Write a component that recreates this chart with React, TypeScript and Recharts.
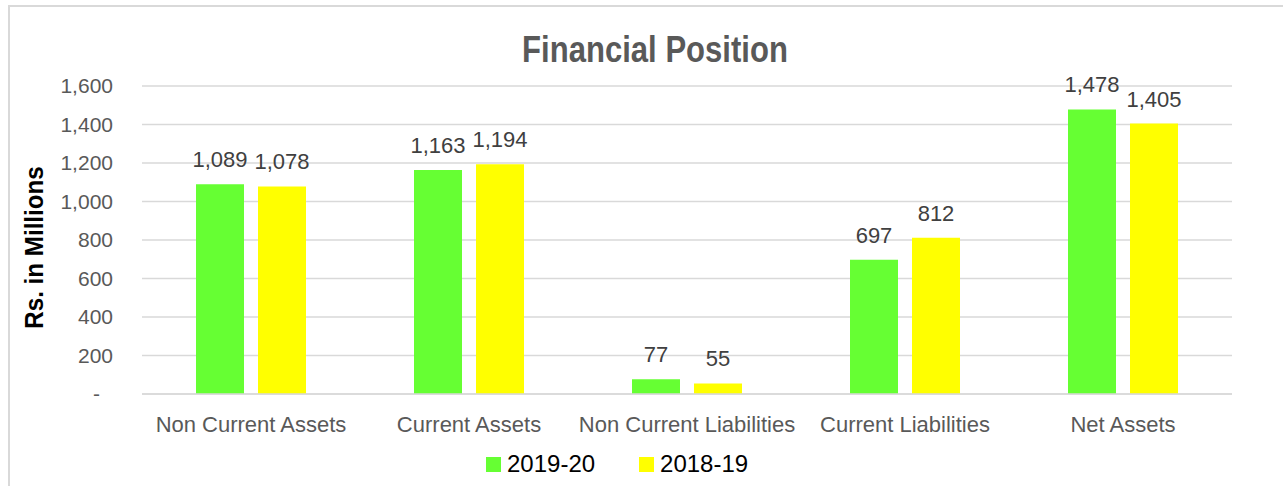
import React from 'react';
import { BarChart, Bar, XAxis, YAxis, CartesianGrid, Legend, LabelList, Label } from 'recharts';

const categories = ['Non Current Assets', 'Current Assets', 'Non Current Liabilities', 'Current Liabilities', 'Net Assets'];
const values2019_20 = [1089, 1163, 77, 697, 1478];
const values2018_19 = [1078, 1194, 55, 812, 1405];
const seriesNames = ['2019-20', '2018-19'];
const seriesColors = ['#66FF33', '#FFFF00'];
const yTicks = [0, 200, 400, 600, 800, 1000, 1200, 1400, 1600];
const titleText = 'Financial Position';
const yAxisTitle = 'Rs. in Millions';

const data = categories.map((c, i) => ({ category: c, a: values2019_20[i], b: values2018_19[i] }));

const FONT = '"Liberation Sans", Arial, sans-serif';
const fmt = (v: number) => v.toLocaleString('en-US');

const YTick = (props: any) => {
  const { x, y, payload } = props;
  const zero = payload.value === 0;
  return (
    <text x={zero ? x - 13 : x} y={y} dy="0.355em" textAnchor="end" fill="#595959" fontSize={21} fontFamily={FONT}>
      {zero ? '-' : fmt(payload.value)}
    </text>
  );
};

const XTick = (props: any) => {
  const { x, y, payload } = props;
  return (
    <text x={x} y={y} dy={0} textAnchor="middle" fill="#595959" fontSize={22} fontFamily={FONT}>
      <tspan x={x} dy="0.71em">{payload.value}</tspan>
    </text>
  );
};

const renderLegend = (props: any) => {
  const { payload } = props;
  const items = [...(payload || [])].sort((p: any, q: any) => String(p.dataKey).localeCompare(String(q.dataKey)));
  return (
    <div style={{ display: 'flex', alignItems: 'center', height: 28 }}>
      {items.map((e: any, i: number) => (
        <div key={i} style={{ display: 'flex', alignItems: 'center', marginRight: 44 }}>
          <span style={{ width: 15, height: 15, background: e.color, display: 'inline-block', marginRight: 6 }} />
          <span style={{ fontSize: 24, color: '#000', fontFamily: FONT, lineHeight: '28px' }}>{e.value}</span>
        </div>
      ))}
    </div>
  );
};

export default function App() {
  return (
    <div style={{ position: 'absolute', left: 0, top: 0, width: 1283, height: 486, overflow: 'hidden', background: '#fff' }}>
      <div style={{ position: 'absolute', left: 8, top: 5, width: 1300, height: 520, border: '2px solid #d9d9d9', boxSizing: 'border-box' }} />
      <svg width={1283} height={100} style={{ position: 'absolute', left: 0, top: 0 }}>
        <text transform="translate(655,62) scale(0.84,1)" textAnchor="middle" fill="#595959" fontSize={37} fontWeight="bold" fontFamily={FONT}>
          {titleText}
        </text>
      </svg>
      <div style={{ position: 'absolute', left: 0, top: 0 }}>
        <BarChart
          width={1283}
          height={486}
          data={data}
          margin={{ top: 86, right: 51, left: 42, bottom: 8 }}
          barGap={14}
          barSize={48}
        >
          <CartesianGrid vertical={false} stroke="#d9d9d9" strokeWidth={1.3} />
          <XAxis
            dataKey="category"
            height={56}
            axisLine={{ stroke: '#d9d9d9', strokeWidth: 1.5 }}
            tickLine={false}
            tickMargin={16}
            tick={<XTick />}
            interval={0}
          />
          <YAxis
            width={100}
            domain={[0, 1600]}
            ticks={yTicks}
            axisLine={false}
            tickLine={false}
            tickMargin={23}
            tick={<YTick />}
          >
            <Label
              content={() => (
                <text transform="translate(43,247.5) rotate(-90) scale(0.93,1)" textAnchor="middle" fill="#000" fontSize={26} fontWeight="bold" fontFamily={FONT}>
                  {yAxisTitle}
                </text>
              )}
            />
          </YAxis>
          <Legend
            verticalAlign="bottom"
            content={renderLegend}
            itemSorter="dataKey"
            wrapperStyle={{ left: 486, width: 400, height: 28 }}
          />
          <Bar dataKey="a" name={seriesNames[0]} fill={seriesColors[0]} isAnimationActive={false}>
            <LabelList dataKey="a" position="top" offset={17} formatter={(v: any) => fmt(Number(v))} fill="#404040" fontSize={22} fontFamily={FONT} />
          </Bar>
          <Bar dataKey="b" name={seriesNames[1]} fill={seriesColors[1]} isAnimationActive={false}>
            <LabelList dataKey="b" position="top" offset={17} formatter={(v: any) => fmt(Number(v))} fill="#404040" fontSize={22} fontFamily={FONT} />
          </Bar>
        </BarChart>
      </div>
    </div>
  );
}
